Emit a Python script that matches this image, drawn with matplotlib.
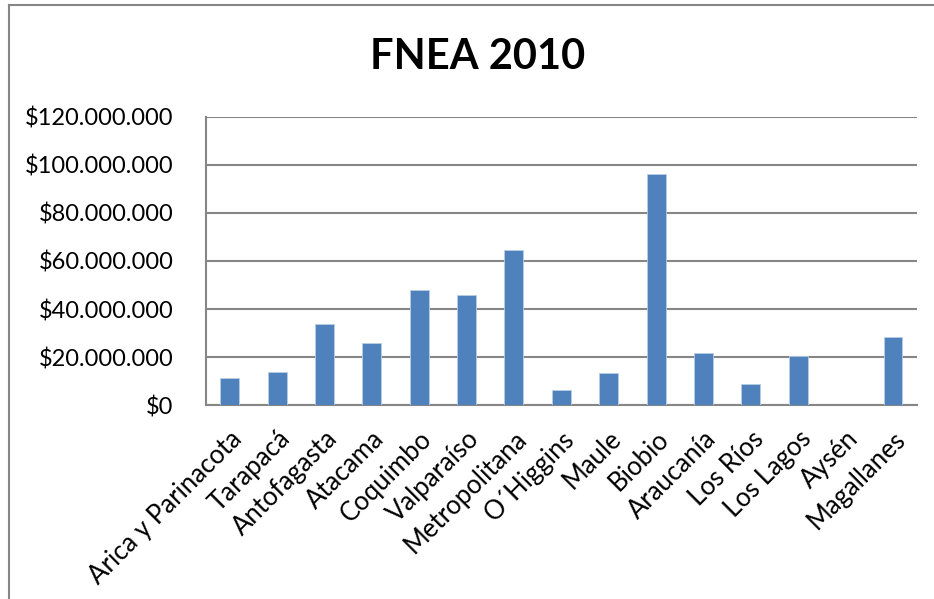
import matplotlib
matplotlib.use("Agg")
import matplotlib.pyplot as plt
from matplotlib.ticker import FuncFormatter
from matplotlib.lines import Line2D

regions = ["Arica y Parinacota", "Tarapacá", "Antofagasta", "Atacama", "Coquimbo",
           "Valparaíso", "Metropolitana", "O´Higgins", "Maule", "Biobio",
           "Araucanía", "Los Ríos", "Los Lagos", "Aysén", "Magallanes"]
values = [11.25e6, 13.9e6, 33.9e6, 25.7e6, 47.8e6,
          45.8e6, 64.6e6, 6.5e6, 13.3e6, 96.1e6,
          21.7e6, 8.9e6, 20.5e6, 0, 28.2e6]
yticks = [0, 20e6, 40e6, 60e6, 80e6, 100e6, 120e6]
title = "FNEA 2010"

plt.rcParams['font.family'] = ['Lato', 'DejaVu Sans']

W, H = 934, 599
fig = plt.figure(figsize=(W/100, H/100), dpi=100)
ax = fig.add_axes([206/W, 1-405.3/H, (916.7-206)/W, (405.3-116.7)/H])

x = list(range(len(regions)))
ax.bar(x, values, width=0.4, color="#4F81BD", edgecolor="#B9CDE5", linewidth=0.6, zorder=3)
ax.set_xlim(-0.5, len(regions)-0.5)
ax.set_ylim(0, 120e6)
ax.set_yticks(yticks)

def fmt(v, pos):
    s = f"{int(round(v)):,}".replace(",", ".")
    return "$" + s
ax.yaxis.set_major_formatter(FuncFormatter(fmt))
ax.yaxis.grid(True, color="#868686", linewidth=1.5, zorder=0)
ax.set_axisbelow(True)
ax.set_xticks(x)
ax.set_xticklabels(regions, rotation=45, ha='right', rotation_mode='anchor', fontsize=18.5)
ax.tick_params(axis='y', length=0, labelsize=17, colors='black', pad=23.5)
ax.tick_params(axis='x', length=0, labelsize=18.5, colors='black', pad=15)
for s in ['top', 'right']:
    ax.spines[s].set_visible(False)
for s in ['left', 'bottom']:
    ax.spines[s].set_color("#868686")
    ax.spines[s].set_linewidth(1.5)

fig.text(477.5/W, 1-57/H, title, ha='center', va='center', fontsize=30, fontweight='bold')

# outer chart border (left and top edges visible)
fig.add_artist(Line2D([9/W, 9/W], [0, 1-5/H], transform=fig.transFigure, color="#868686", linewidth=1.5))
fig.add_artist(Line2D([9/W, 1], [1-5/H, 1-5/H], transform=fig.transFigure, color="#868686", linewidth=1.5))

fig.savefig("out.png", dpi=100)
